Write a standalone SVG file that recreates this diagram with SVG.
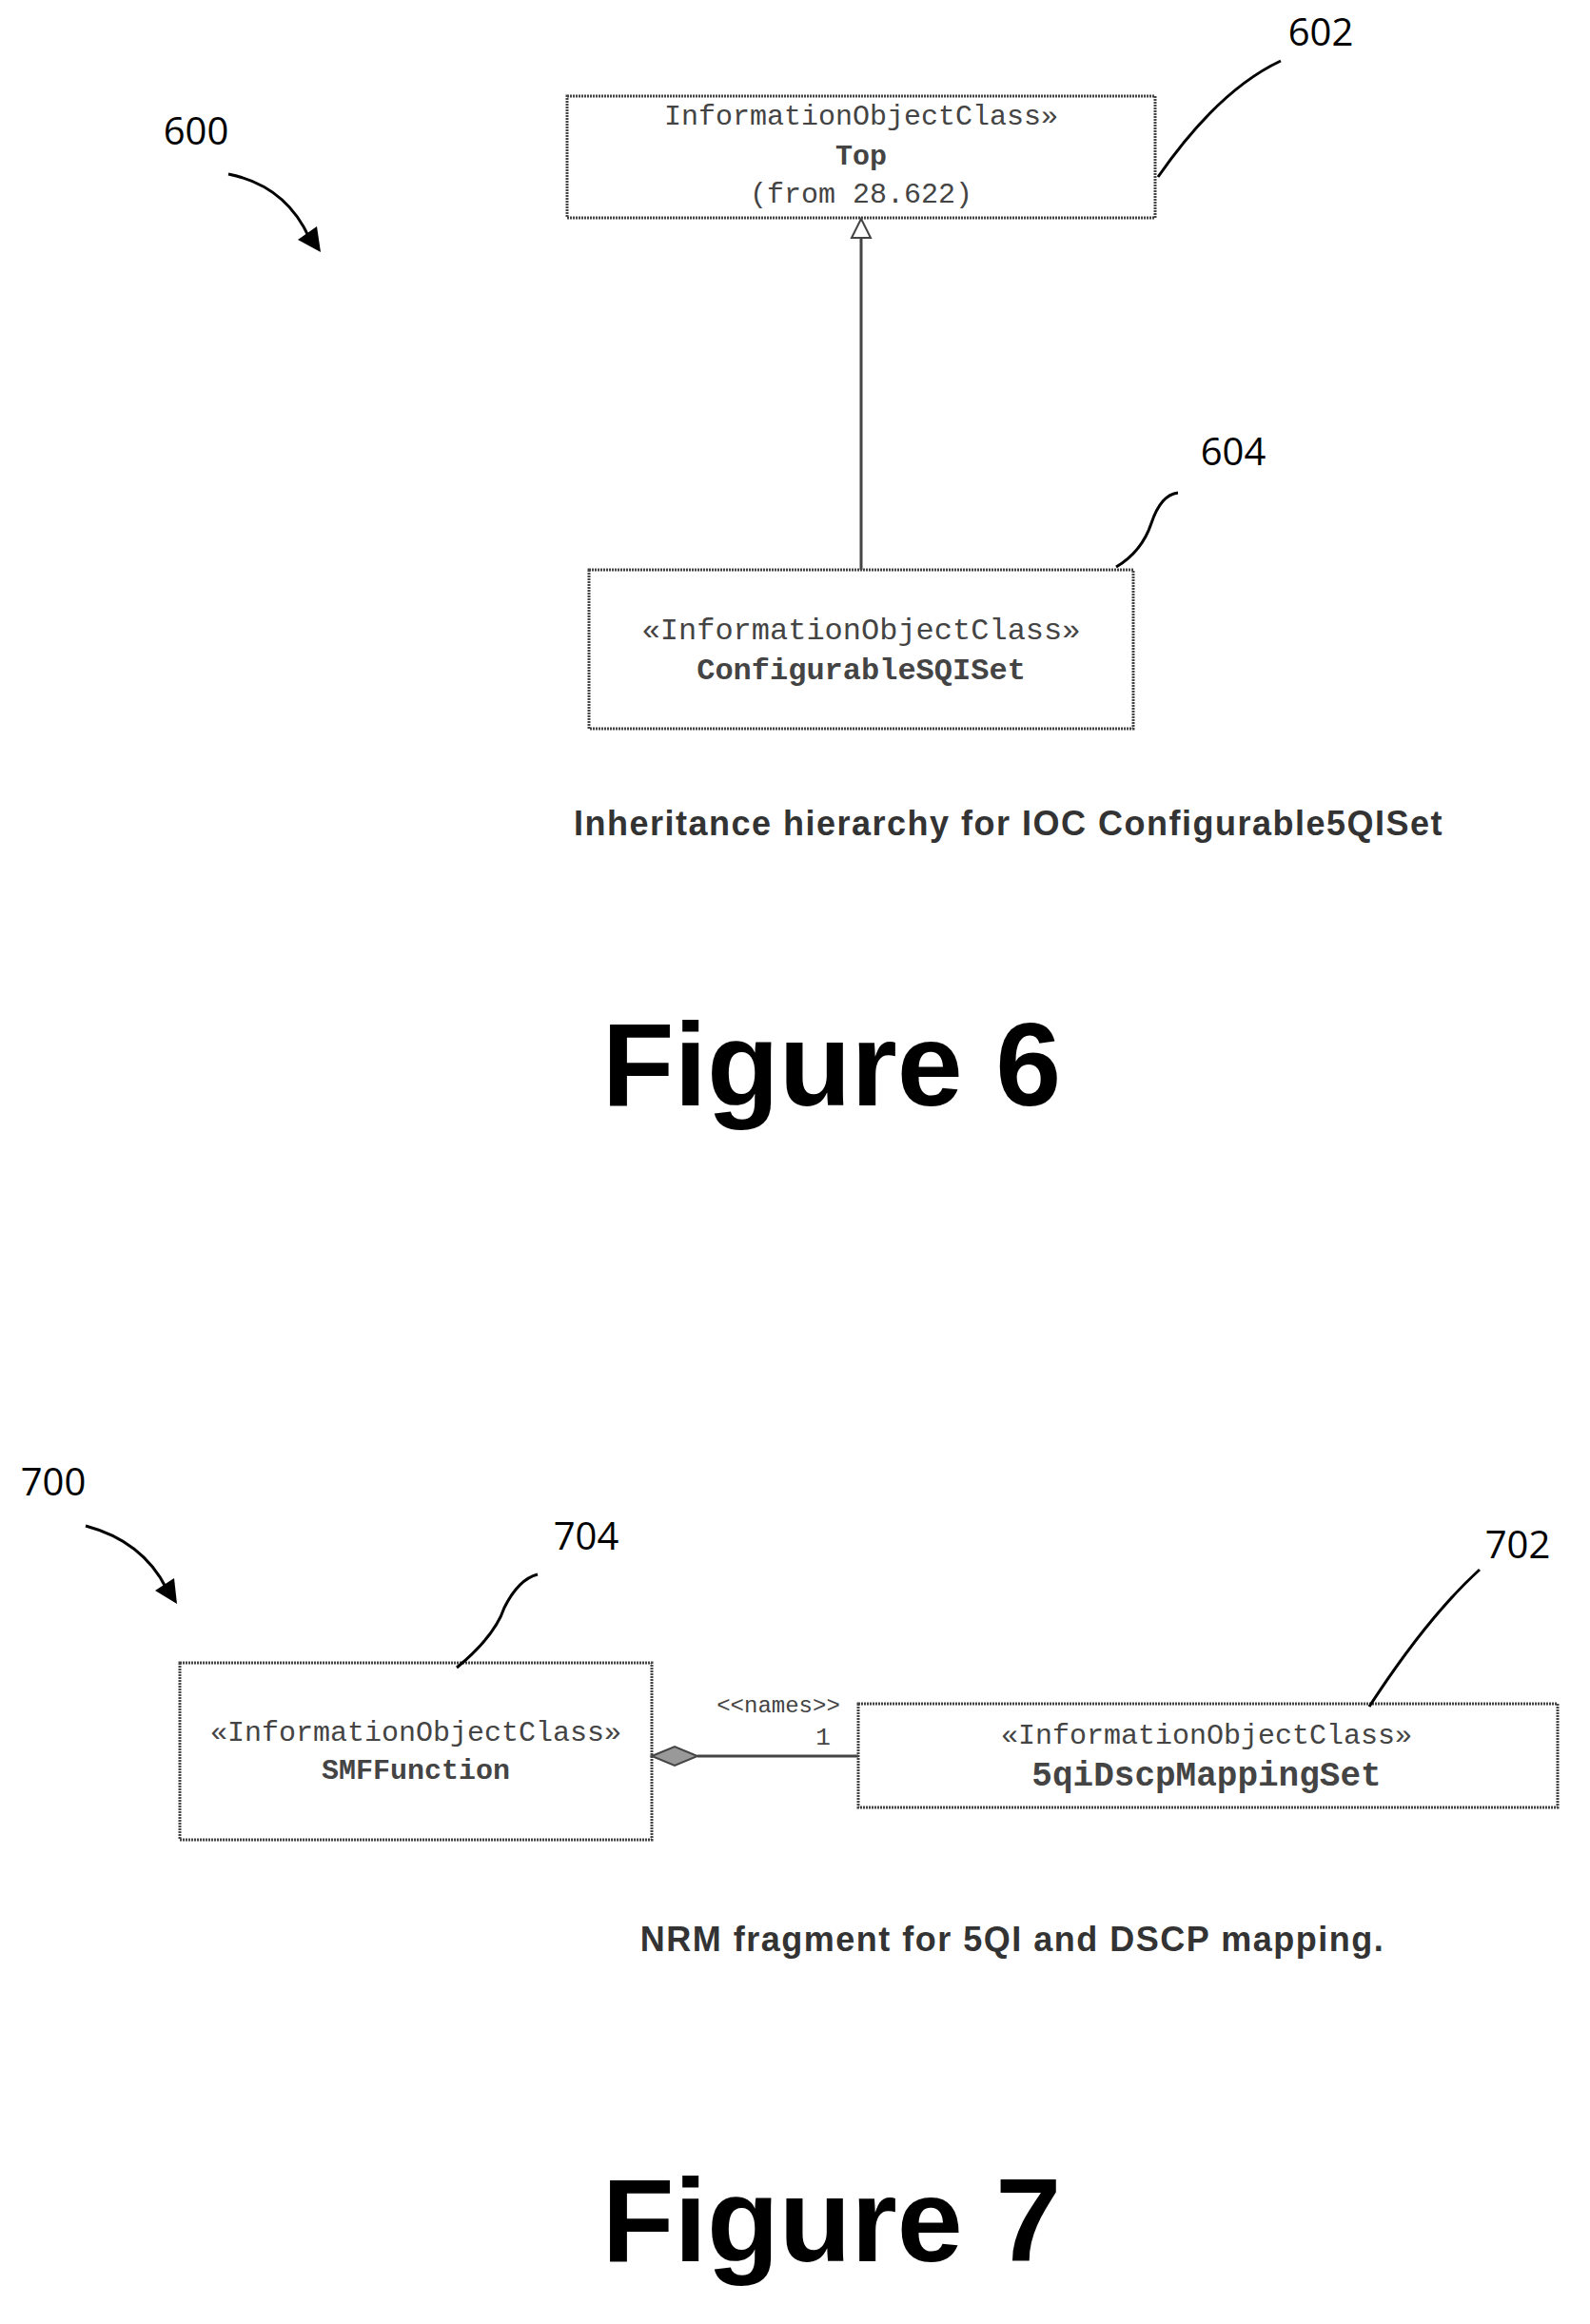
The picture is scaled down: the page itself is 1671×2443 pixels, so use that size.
<svg xmlns="http://www.w3.org/2000/svg" width="1671" height="2443" viewBox="0 0 1671 2443">
<style>
.box{fill:#fff;stroke:#444;stroke-width:3;stroke-dasharray:2 1}
.m{font-family:"Liberation Mono",monospace;fill:#444;text-anchor:middle}
.ref{font-family:"Open Sans","Liberation Sans",sans-serif;font-size:40px;fill:#000;text-anchor:middle}
.cap{font-family:"Liberation Sans",sans-serif;font-weight:bold;font-size:36px;letter-spacing:1.5px;fill:#333;text-anchor:middle}
.fig{font-family:"Liberation Sans",sans-serif;font-weight:bold;font-size:124px;fill:#000;text-anchor:middle}
.ld{fill:none;stroke:#000;stroke-width:3}
</style>
<defs>
<marker id="ah" viewBox="0 0 10 10" refX="9" refY="5" markerWidth="8" markerHeight="8" markerUnits="userSpaceOnUse" orient="auto"><path d="M0,0 L10,5 L0,10 z" fill="#000"/></marker>
</defs>
<g id="fig6">
<text class="ref" x="206" y="152">600</text>
<path class="ld" d="M240,183 Q300,195 325,250"/>
<path d="M337,265 L313,252 L333,238 z" fill="#000"/>
<g id="n602">
<rect class="box" x="596" y="101" width="618" height="128"/>
<text class="m" font-size="30" x="905" y="131">InformationObjectClass»</text>
<text class="m" font-size="30" font-weight="bold" x="905" y="173">Top</text>
<text class="m" font-size="30" x="905" y="213">(from 28.622)</text>
</g>
<g id="n604">
<rect class="box" x="619" y="599" width="572" height="167"/>
<text class="m" font-size="32" x="905" y="672">«InformationObjectClass»</text>
<text class="m" font-size="32" font-weight="bold" x="905" y="714">ConfigurableSQISet</text>
</g>
<text class="ref" x="1388" y="48">602</text>
<path class="ld" d="M1217,186 Q1280,95 1346,64"/>
<text class="ref" x="1296" y="489">604</text>
<path class="ld" d="M1173,596 Q1200,580 1210,550 Q1220,520 1238,518"/>
<g id="c6">
<line x1="905" y1="250" x2="905" y2="599" stroke="#444" stroke-width="3"/>
<path d="M905,230 L895,250 L915,250 z" fill="#fff" stroke="#444" stroke-width="2"/>
</g>
<text class="cap" x="1060" y="878">Inheritance hierarchy for IOC Configurable5QISet</text>
<text class="fig" x="874" y="1162">Figure 6</text>
</g>
<g id="fig7">
<text class="ref" x="56" y="1572">700</text>
<path class="ld" d="M90,1604 Q150,1620 175,1670"/>
<path d="M186,1686 L163,1672 L183,1659 z" fill="#000"/>
<g id="n704">
<rect class="box" x="189" y="1748" width="496" height="186"/>
<text class="m" font-size="30" x="437" y="1830">«InformationObjectClass»</text>
<text class="m" font-size="30" font-weight="bold" x="437" y="1870">SMFFunction</text>
</g>
<g id="n702">
<rect class="box" x="902" y="1791" width="735" height="109"/>
<text class="m" font-size="30" x="1268" y="1833">«InformationObjectClass»</text>
<text class="m" font-size="36" font-weight="bold" x="1268" y="1877">5qiDscpMappingSet</text>
</g>
<text class="ref" x="616" y="1629">704</text>
<path class="ld" d="M480,1753 Q520,1720 530,1690 Q545,1660 565,1655"/>
<text class="ref" x="1595" y="1638">702</text>
<path class="ld" d="M1439,1794 Q1500,1700 1555,1650"/>
<g id="c7">
<line x1="733" y1="1846" x2="902" y2="1846" stroke="#444" stroke-width="3"/>
<path d="M685,1846 L709,1836 L733,1846 L709,1856 z" fill="#999" stroke="#444" stroke-width="2"/>
<text class="m" font-size="24" x="818" y="1800">&lt;&lt;names&gt;&gt;</text>
<text class="m" font-size="26" x="865" y="1834">1</text>
</g>
<text class="cap" x="1064" y="2051">NRM fragment for 5QI and DSCP mapping.</text>
<text class="fig" x="874" y="2377">Figure 7</text>
</g>
</svg>
